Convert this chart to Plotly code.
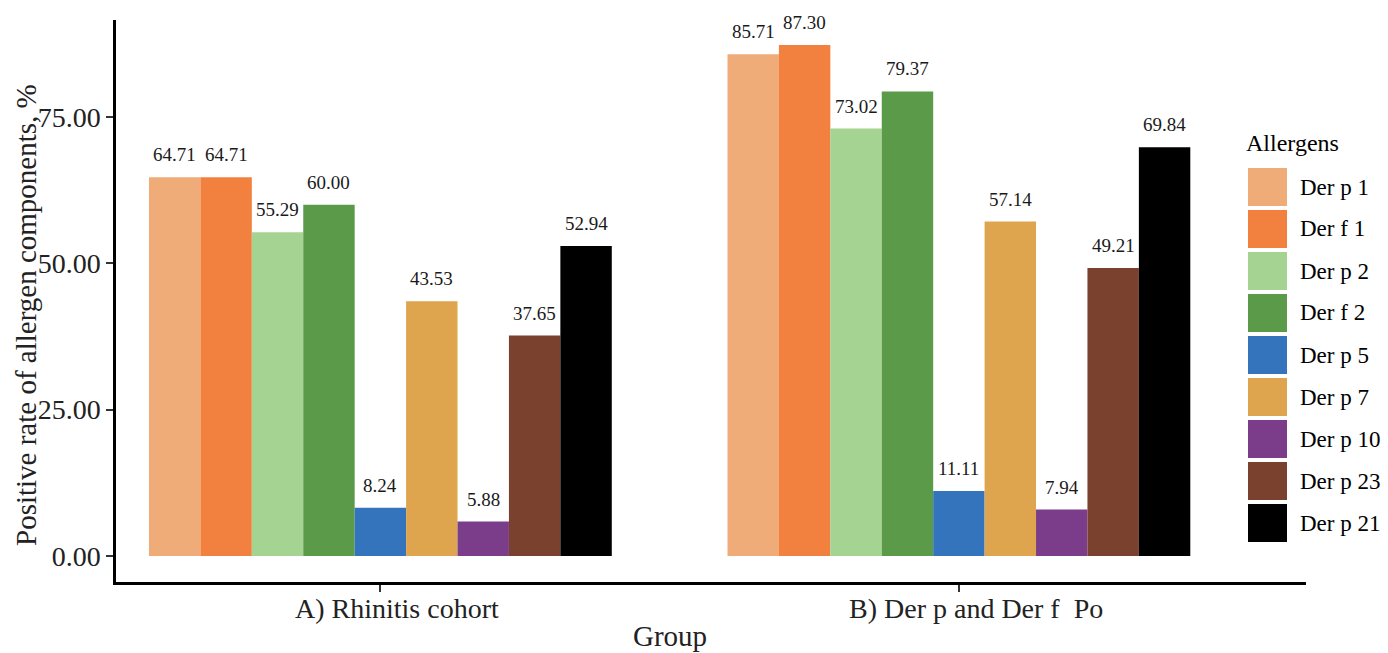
import plotly.graph_objects as go

groups = ["A) Rhinitis cohort", "B) Der p and Der f  Po"]
allergens = ["Der p 1", "Der f 1", "Der p 2", "Der f 2", "Der p 5",
             "Der p 7", "Der p 10", "Der p 23", "Der p 21"]
rhinitis = [64.71, 64.71, 55.29, 60.00, 8.24, 43.53, 5.88, 37.65, 52.94]
derpf_po = [85.71, 87.30, 73.02, 79.37, 11.11, 57.14, 7.94, 49.21, 69.84]
colors = ["#F0AC78", "#F2803E", "#A5D391", "#5A9A48", "#3474BC",
          "#DEA54E", "#7B3D8A", "#7A412E", "#000000"]
y_ticks = [0, 25, 50, 75]
x_title = "Group"
y_title = "Positive rate of allergen components, %"
legend_title = "Allergens"

W, H = 1388, 653
L, R, T, B = 116, 82, 20, 71
PW, PH = W - L - R, H - T - B
FONT = "Liberation Serif, Times New Roman, serif"
BARGAP = 0.2

fig = go.Figure()
for j, name in enumerate(allergens):
    vals = [rhinitis[j], derpf_po[j]]
    fig.add_trace(go.Bar(x=groups, y=vals, name=name, marker_color=colors[j],
                         marker_line_width=0, showlegend=False))

n = len(allergens)
bw = (1 - BARGAP) / n
annotations = []
for gi in range(len(groups)):
    vals = rhinitis if gi == 0 else derpf_po
    for j in range(n):
        xc = gi + (j - (n - 1) / 2) * bw
        annotations.append(dict(x=xc, y=vals[j], xref="x", yref="y",
                                text=f"{vals[j]:.2f}", showarrow=False,
                                yanchor="bottom", yshift=10,
                                font=dict(family=FONT, size=19, color="#1a1a1a")))

def px_x(px):
    return (px - L) / PW

def px_y(py):
    return (H - B - py) / PH

# category labels under the ticks
for g in groups:
    annotations.append(dict(x=g, y=px_y(608), xref="x", yref="paper", xshift=17,
                            text=g, showarrow=False, xanchor="center", yanchor="middle",
                            font=dict(family=FONT, size=28, color="#222")))

# axis titles
annotations.append(dict(x=px_x(670), y=px_y(636), xref="paper", yref="paper",
                        text=x_title, showarrow=False, xanchor="center", yanchor="middle",
                        font=dict(family=FONT, size=29, color="#222")))
annotations.append(dict(x=px_x(26), y=px_y(315), xref="paper", yref="paper",
                        text=y_title, showarrow=False, xanchor="center", yanchor="middle",
                        textangle=-90, font=dict(family=FONT, size=29, color="#222")))

# legend (manual, to match large swatches)
shapes = []
annotations.append(dict(x=px_x(1244), y=px_y(143), xref="paper", yref="paper",
                        text=legend_title, showarrow=False, xanchor="left",
                        yanchor="middle", font=dict(family=FONT, size=24, color="#000")))
for j, name in enumerate(allergens):
    top = 168 + j * 42
    shapes.append(dict(type="rect", xref="paper", yref="paper",
                       x0=px_x(1248), x1=px_x(1287), y0=px_y(top + 38), y1=px_y(top),
                       fillcolor=colors[j], line=dict(width=0)))
    annotations.append(dict(x=px_x(1298), y=px_y(top + 19), xref="paper", yref="paper",
                            text=name, showarrow=False, xanchor="left", yanchor="middle",
                            font=dict(family=FONT, size=23, color="#000")))

fig.update_layout(
    width=W, height=H,
    margin=dict(l=L, r=R, t=T, b=B, pad=0, autoexpand=False),
    barmode="group", bargap=BARGAP, bargroupgap=0,
    plot_bgcolor="white", paper_bgcolor="white",
    font=dict(family=FONT, size=28, color="#222"),
    annotations=annotations, shapes=shapes,
    showlegend=False,
    xaxis=dict(range=[-0.457, 1.6], showline=True, linecolor="black", linewidth=2.5,
               ticks="outside", ticklen=7, tickwidth=1.5, tickcolor="#333",
               showgrid=False, zeroline=False, automargin=False,
               showticklabels=False),
    yaxis=dict(range=[-4.44, 91.57], showline=True, linecolor="black", linewidth=2.5,
               tickvals=y_ticks, ticktext=[f"{v:.2f}" for v in y_ticks],
               ticks="outside", ticklen=7, tickwidth=1.5, tickcolor="#333",
               showgrid=False, zeroline=False, automargin=False,
               tickfont=dict(family=FONT, size=28, color="#222")),
)

post = """
document.documentElement.style.margin='0';
document.body.style.margin='0';
document.documentElement.style.overflow='hidden';
document.body.style.overflow='hidden';
"""
fig.write_html("out.html", post_script=post, config={"displayModeBar": False})
